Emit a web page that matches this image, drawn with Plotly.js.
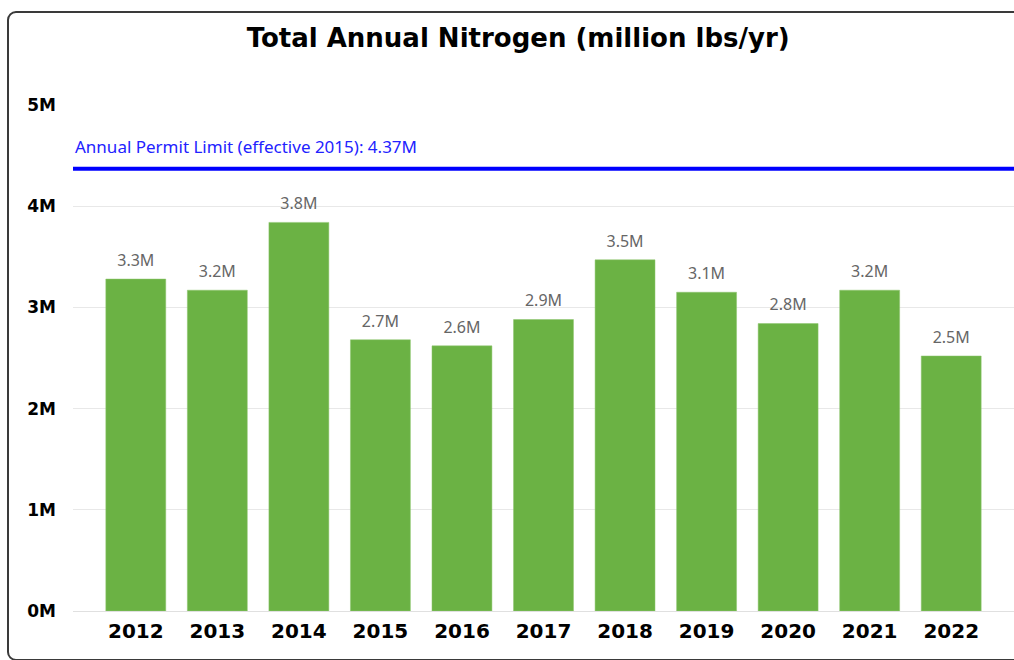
<!DOCTYPE html>
<html>
<head>
<meta charset="utf-8">
<script src="https://cdn.plot.ly/plotly-3.0.1.min.js"></script>
<style>
  html, body { margin: 0; padding: 0; background: #ffffff; }
  #frame { position: absolute; left: 7px; top: 11px; width: 1040px; height: 650px;
           border: 2px solid #3a3a3a; border-radius: 9px; box-sizing: border-box; }
  #chart { position: absolute; left: 0; top: 0; width: 1014px; height: 660px; }
</style>
</head>
<body>
<div id="frame"></div>
<div id="chart"></div>
<script>
// Data (million lbs/yr)
const years = ['2012','2013','2014','2015','2016','2017','2018','2019','2020','2021','2022'];
const nitrogen = [3.28, 3.17, 3.84, 2.68, 2.62, 2.88, 3.47, 3.15, 2.84, 3.17, 2.52];
const permitLimit = 4.37;
const permitLabel = 'Annual Permit Limit (effective 2015): 4.37M';
const yTickVals = [0, 1, 2, 3, 4, 5];
const yTickText = ['0M', '1M', '2M', '3M', '4M', '5M'];
const chartTitle = 'Total Annual Nitrogen (million lbs/yr)';

const labels = nitrogen.map(v => v.toFixed(1) + 'M');

const bars = {
  type: 'bar',
  x: years,
  y: nitrogen,
  marker: { color: '#6BB244', line: { color: '#8cc46c', width: 0.5 } },
  hoverinfo: 'x+y'
};

const valueLabels = {
  type: 'scatter',
  mode: 'markers+text',
  x: years,
  y: nitrogen,
  text: labels,
  textposition: 'top center',
  textfont: { family: 'Noto Sans, Roboto, sans-serif', size: 16, color: '#666666' },
  marker: { size: 13, opacity: 0 },
  hoverinfo: 'skip',
  cliponaxis: false
};

const layout = {
  width: 1014,
  height: 660,
  margin: { l: 73, r: 0, t: 105, b: 49 },
  paper_bgcolor: 'rgba(0,0,0,0)',
  plot_bgcolor: 'rgba(0,0,0,0)',
  showlegend: false,
  bargap: 0.265,
  title: {
    text: chartTitle,
    font: { family: 'DejaVu Sans, sans-serif', size: 26, color: '#000000', weight: 'bold' },
    x: 0.511, xref: 'container', xanchor: 'center',
    y: 0.942, yref: 'container', yanchor: 'middle'
  },
  xaxis: {
    type: 'category',
    range: [-0.77, 10.77],
    showgrid: false,
    zeroline: false,
    showline: false,
    ticks: '',
    ticklabelstandoff: 6,
    tickfont: { family: 'DejaVu Sans, sans-serif', size: 20, color: '#000000', weight: 'bold' },
    fixedrange: true
  },
  yaxis: {
    range: [0, 5],
    tickvals: yTickVals,
    ticktext: yTickText,
    showgrid: true,
    gridcolor: '#e8e8e8',
    gridwidth: 1,
    zeroline: true,
    zerolinecolor: '#e0e0e0',
    zerolinewidth: 1,
    showline: false,
    ticks: '',
    ticklabelstandoff: 16,
    tickfont: { family: 'DejaVu Sans, sans-serif', size: 17, color: '#000000', weight: 'bold' },
    fixedrange: true
  },
  shapes: [{
    type: 'line',
    xref: 'paper', x0: 0, x1: 1,
    yref: 'y', y0: permitLimit, y1: permitLimit,
    line: { color: '#0000FF', width: 4 },
    layer: 'above'
  }],
  annotations: [{
    xref: 'paper', x: 0, xanchor: 'left',
    yref: 'y', y: permitLimit, yanchor: 'bottom', yshift: 9,
    text: permitLabel,
    showarrow: false,
    font: { family: 'Noto Sans, Roboto, sans-serif', size: 17, color: '#2222FF' }
  }]
};

Plotly.newPlot('chart', [bars, valueLabels], layout, { displayModeBar: false, staticPlot: true });
</script>
</body>
</html>
